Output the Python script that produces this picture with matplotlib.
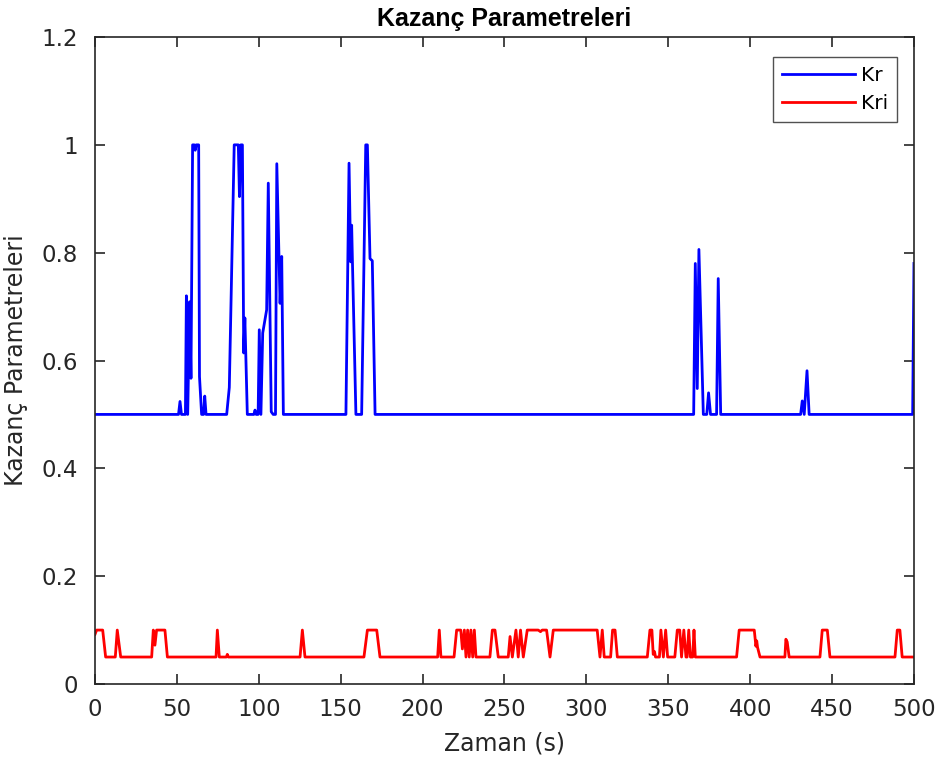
import matplotlib
matplotlib.use("Agg")
import matplotlib.pyplot as plt
from matplotlib import font_manager

# Kr breakpoints (time in s, gain)
kr_t = [0, 51, 51.9, 52.8, 55.2, 55.8, 56.6, 57.8, 58.6, 59.6, 60.6, 61.2, 61.8, 63.3, 63.8, 65.1,
        66.3, 67, 67.8, 80.4, 82, 85, 87.5, 88.2, 89, 90, 90.8, 91.5, 93, 97, 97.7, 98.4, 99.6,
        100.3, 101.3, 102.4, 104.8, 105.8, 107.6, 108.8, 110.2, 111, 113, 114, 115,
        153.2, 155.1, 156.1, 156.7, 157.2, 159.3, 162.8, 165.3, 166.3, 167.9, 169.3, 171,
        365.5, 366.5, 367.7, 368.7, 371.4, 373.5, 374.6, 375.8, 379.5, 380.5, 382,
        430.8, 431.8, 433, 434.7, 436, 499.2, 500]
kr_v = [0.5, 0.5, 0.524, 0.5, 0.5, 0.72, 0.5, 0.709, 0.567, 1.0, 1.0, 0.99, 1.0, 1.0, 0.57, 0.5,
        0.5, 0.534, 0.5, 0.5, 0.55, 1.0, 1.0, 0.904, 1.0, 1.0, 0.614, 0.679, 0.5, 0.5, 0.508, 0.5, 0.5,
        0.657, 0.5, 0.651, 0.694, 0.929, 0.505, 0.5, 0.5, 0.965, 0.706, 0.793, 0.5,
        0.5, 0.966, 0.783, 0.851, 0.78, 0.5, 0.5, 1.0, 1.0, 0.789, 0.785, 0.5,
        0.5, 0.78, 0.548, 0.806, 0.5, 0.5, 0.54, 0.5, 0.5, 0.752, 0.5,
        0.5, 0.525, 0.5, 0.581, 0.5, 0.5, 0.78]

# Kri breakpoints
kri_t = [0, 1, 4.7, 6.5, 12.4, 13.6, 15.7, 34.6, 35.6, 36.6, 37.6, 42.7, 44.2, 73.9, 74.7, 75.9,
         80.2, 80.8, 81.4, 125.2, 126.6, 128.2, 164.2, 166.3, 172, 174, 209.2, 210.2, 211.2,
         219.2, 220.8, 223.3, 224.3, 225.5, 226.5, 227.5, 228.5, 229.5, 230.6, 231.6, 232.6,
         241.1, 242.6, 244.2, 246.2, 252.3, 253.4, 254.8, 257, 258.4, 259.8, 261.5, 263.9,
         270.6, 272, 273, 275.7, 277.8, 279.8, 306.6, 308.3, 309.7, 310.9, 314.8, 316, 317.5, 318.9,
         337.2, 338.8, 340, 340.8, 341.6, 342.2, 344.6, 345.5, 347, 348.4, 349.6, 354, 355.5, 357,
         358.1, 359.5, 360.8, 361.5, 362.5, 363.5, 364.9, 365.7, 366.5,
         391.7, 393.3, 402.5, 403.5, 404, 404.5, 406, 421.2, 421.8, 422.6, 423.8,
         442.6, 444, 447.1, 448.7, 488.4, 489.8, 491.4, 492.8, 500]
kri_v = [0.092, 0.1, 0.1, 0.05, 0.05, 0.1, 0.05, 0.05, 0.1, 0.072, 0.1, 0.1, 0.05, 0.05, 0.1, 0.05,
         0.05, 0.055, 0.05, 0.05, 0.1, 0.05, 0.05, 0.1, 0.1, 0.05, 0.05, 0.1, 0.05,
         0.05, 0.1, 0.1, 0.065, 0.1, 0.05, 0.1, 0.05, 0.1, 0.05, 0.1, 0.05,
         0.05, 0.1, 0.1, 0.05, 0.05, 0.088, 0.05, 0.1, 0.05, 0.1, 0.05, 0.1,
         0.1, 0.097, 0.1, 0.1, 0.05, 0.1, 0.1, 0.05, 0.1, 0.05, 0.05, 0.1, 0.1, 0.05,
         0.05, 0.1, 0.1, 0.055, 0.06, 0.05, 0.05, 0.1, 0.05, 0.1, 0.05, 0.05, 0.1, 0.1,
         0.05, 0.1, 0.05, 0.05, 0.1, 0.05, 0.05, 0.1, 0.05,
         0.05, 0.1, 0.1, 0.07, 0.08, 0.068, 0.05, 0.05, 0.083, 0.078, 0.05,
         0.05, 0.1, 0.1, 0.05, 0.05, 0.1, 0.1, 0.05, 0.05]

x_ticks = [0, 50, 100, 150, 200, 250, 300, 350, 400, 450, 500]
y_ticks = [0, 0.2, 0.4, 0.6, 0.8, 1.0, 1.2]
y_tick_labels = ["0", "0.2", "0.4", "0.6", "0.8", "1", "1.2"]

names = {f.name for f in font_manager.fontManager.ttflist}
title_font = "Liberation Sans Narrow" if "Liberation Sans Narrow" in names else "Liberation Sans"
dark = "#262626"

plt.rcParams["font.family"] = ["DejaVu Sans"]

fig = plt.figure(figsize=(9.48, 7.65), dpi=100)
ax = fig.add_axes([0.1002, 0.1059, 0.8639, 0.8457])

ax.plot(kr_t, kr_v, color="#0000ff", lw=2, label="Kr")
ax.plot(kri_t, kri_v, color="#ff0000", lw=2, label="Kri")

ax.set_xlim(0, 500)
ax.set_ylim(0, 1.2)
ax.set_xticks(x_ticks)
ax.set_yticks(y_ticks)
ax.set_yticklabels(y_tick_labels)
ax.tick_params(direction="in", top=True, right=True, length=7, width=1.2,
               color=dark, labelcolor=dark, labelsize=16.5)
ax.tick_params(axis="x", pad=10)
ax.tick_params(axis="y", pad=12)
for s in ax.spines.values():
    s.set_color(dark)
    s.set_linewidth(1.2)

ax.set_xlabel("Zaman (s)", fontsize=17, color=dark, labelpad=8)
ax.set_ylabel("Kazanç Parametreleri", fontsize=17, color=dark, labelpad=10)
ax.set_title("Kazanç Parametreleri", fontsize=18, fontweight="bold",
             family=title_font, color="black", pad=8)

leg = ax.legend(loc="upper right", fontsize=14.5, frameon=True, fancybox=False,
                handlelength=3.6, handletextpad=0.3, borderpad=0.45, labelspacing=0.45,
                borderaxespad=0, bbox_to_anchor=(0.979, 0.969))
leg.get_frame().set_edgecolor(dark)
leg.get_frame().set_linewidth(1.0)

fig.savefig("out.png", dpi=100)
